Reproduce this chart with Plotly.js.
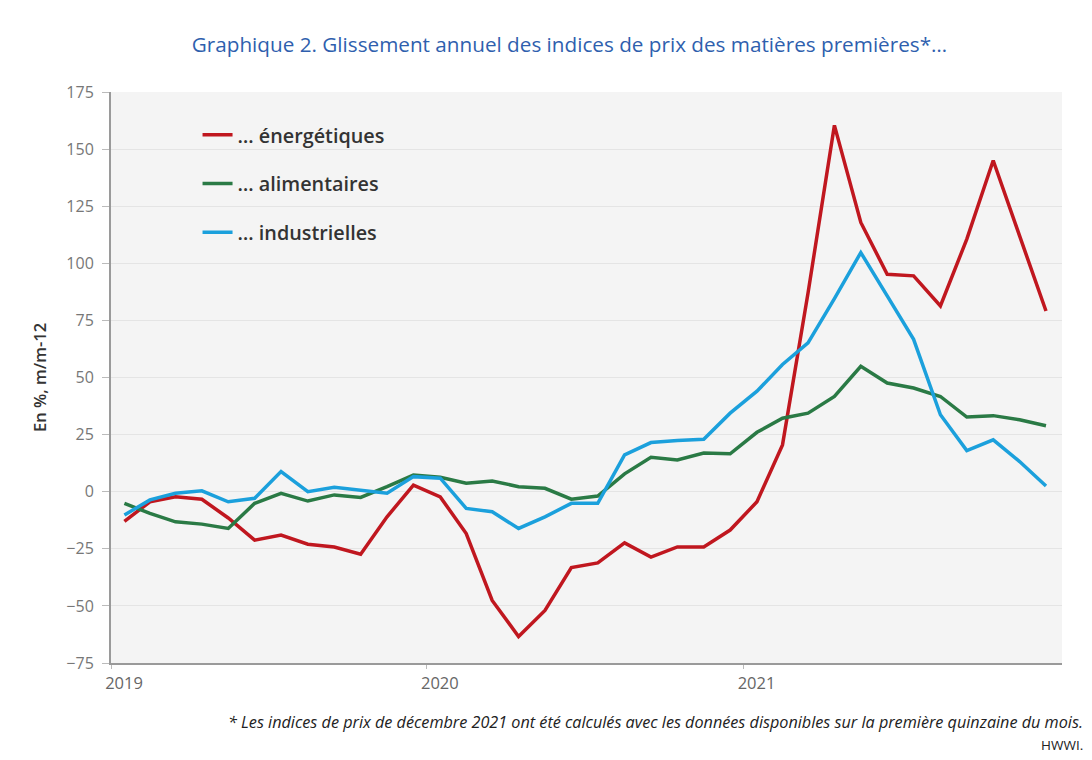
<!DOCTYPE html>
<html><head><meta charset="utf-8">
<script src="https://cdn.plot.ly/plotly-3.0.1.min.js"></script>
<style>html,body{margin:0;padding:0;background:#fff}#chart{width:1092px;height:760px}</style>
</head><body><div id="chart"></div><script>
const months = ['2019-01','2019-02','2019-03','2019-04','2019-05','2019-06','2019-07','2019-08','2019-09','2019-10','2019-11','2019-12',
'2020-01','2020-02','2020-03','2020-04','2020-05','2020-06','2020-07','2020-08','2020-09','2020-10','2020-11','2020-12',
'2021-01','2021-02','2021-03','2021-04','2021-05','2021-06','2021-07','2021-08','2021-09','2021-10','2021-11','2021-12'];
const energetiques = [-13,-4.4,-2.2,-3.3,-11.5,-21.2,-19.0,-23.0,-24.2,-27.4,-11.0,2.9,
-2.3,-18.3,-47.6,-63.4,-52,-33.2,-31.2,-22.4,-28.6,-24.2,-24.2,-16.8,
-4.4,20.5,87,160.4,117.9,95.2,94.5,81.3,110.6,145,112,79.1];
const alimentaires = [-5.1,-9.5,-13.2,-14.2,-16.1,-5.1,-0.7,-4.1,-1.4,-2.5,2.2,7.3,
6.3,3.7,4.7,2.2,1.5,-3.3,-1.9,7.8,15.1,13.9,16.9,16.6,
26,32.2,34.4,41.7,54.9,47.6,45.4,41.7,32.7,33.3,31.5,28.9];
const industrielles = [-10.2,-3.6,-0.7,0.4,-4.4,-2.9,8.8,0,1.9,0.7,-0.7,6.6,
5.9,-7.3,-8.8,-16.1,-11.0,-5.1,-5.1,16.1,21.5,22.4,23.0,34.4,
44,55.7,65.2,84.5,104.7,85.7,66.7,33.7,18.0,22.7,13.2,2.5];
const seriesNames = ['… énergétiques','… alimentaires','… industrielles'];
const seriesColors = ['#c0171f','#2a7a45','#1ba0dc'];
const yTickVals = [-75,-50,-25,0,25,50,75,100,125,150,175];
const xTickVals = ['2019-01-01','2020-01-01','2021-01-01'];
const xTickText = ['2019','2020','2021'];
const titleText = 'Graphique 2. Glissement annuel des indices de prix des matières premières*…';
const yTitle = 'En %, m/m-12';
const footnote = '* Les indices de prix de décembre 2021 ont été calculés avec les données disponibles sur la première quinzaine du mois.';
const source = 'HWWI.';

const allSeries = [energetiques, alimentaires, industrielles];
const traces = allSeries.map((vals, i) => ({
  type: 'scatter', mode: 'lines', x: months, y: vals,
  xperiod: 'M1', xperiodalignment: 'middle',
  name: seriesNames[i], legendgroup: 'g' + i,
  line: {color: seriesColors[i], width: 3.5}
}));

const layout = {
  width: 1092, height: 760,
  margin: {l: 111, r: 30, t: 92, b: 97},
  paper_bgcolor: '#ffffff', plot_bgcolor: '#f4f4f4',
  font: {family: '"Open Sans", sans-serif', color: '#555'},
  title: {text: titleText, x: 0.5215, xanchor: 'center', y: 1 - 45/760, yanchor: 'middle',
    font: {family: '"Open Sans", sans-serif', size: 20.7, color: '#2f5fae'}},
  showlegend: true,
  legend: {x: 0.091, y: 0.959, xanchor: 'left', yanchor: 'top', bgcolor: 'rgba(0,0,0,0)',
    traceorder: 'grouped', tracegroupgap: 20,
    font: {family: '"Open Sans", sans-serif', size: 19.8, color: '#333', weight: 600}},
  xaxis: {type: 'date', range: ['2019-01-01', '2022-01-04'],
    tickvals: xTickVals, ticktext: xTickText, ticklabelshift: 13,
    showgrid: false, zeroline: false,
    showline: true, linecolor: '#9a9a9a', linewidth: 2,
    ticks: 'outside', ticklen: 4, tickcolor: '#bbb',
    tickfont: {family: '"Open Sans", sans-serif', size: 16.5, color: '#666'}},
  yaxis: {range: [-75, 175], tickvals: yTickVals, showgrid: true, gridcolor: '#e4e4e4', gridwidth: 1,
    zeroline: false, showline: true, linecolor: '#9a9a9a', linewidth: 2,
    ticks: 'outside', ticklen: 7, tickcolor: '#bbb', ticklabelstandoff: 5,
    tickfont: {family: '"Open Sans", sans-serif', size: 16, color: '#777'},
    title: {text: yTitle, standoff: 16, font: {family: '"Open Sans", sans-serif', size: 16.5, color: '#333', weight: 600}}},
  annotations: [
    {text: footnote, xref: 'paper', yref: 'paper', x: 1.024, y: (663-722)/571, xanchor: 'right', yanchor: 'middle',
     showarrow: false, font: {family: '"Open Sans", sans-serif', size: 16.2, color: '#222', style: 'italic'}},
    {text: source, xref: 'paper', yref: 'paper', x: 1.024, y: (663-745)/571, xanchor: 'right', yanchor: 'middle',
     showarrow: false, font: {family: '"Open Sans", sans-serif', size: 13.5, color: '#222'}}
  ]
};
Plotly.newPlot('chart', traces, layout, {displayModeBar: false, staticPlot: true});
</script></body></html>
